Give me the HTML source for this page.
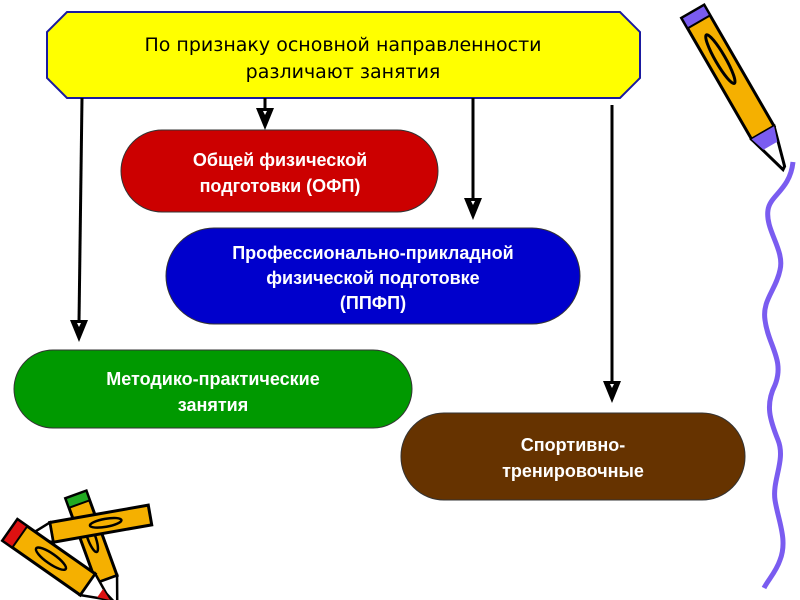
<!DOCTYPE html>
<html><head><meta charset="utf-8"><style>
html,body{margin:0;padding:0;background:#fff;}
body{width:800px;height:600px;overflow:hidden;position:relative;}
svg{position:absolute;left:0;top:0;}
text{font-family:"Liberation Sans","DejaVu Sans",sans-serif;font-weight:bold;font-size:18px;text-anchor:middle;}
</style></head><body>
<svg width="800" height="600" viewBox="0 0 800 600">
<polygon points="67,12 620,12 640,32 640,78 620,98 67,98 47,78 47,32" fill="#ffff00" stroke="#1a1aa0" stroke-width="2"/>
<text x="343" y="51" style="font-weight:normal;font-family:'DejaVu Sans',sans-serif;font-size:19px">По признаку основной направленности</text>
<text x="343" y="78" style="font-weight:normal;font-family:'DejaVu Sans',sans-serif;font-size:19px">различают занятия</text>
<g stroke="#000" stroke-width="3">
<line x1="82" y1="98" x2="79" y2="322"/>
<line x1="265" y1="98" x2="265" y2="112"/>
<line x1="473" y1="98" x2="473" y2="200"/>
<line x1="612" y1="105" x2="612" y2="383"/>
</g>
<g fill="#000">
<polygon points="70,320 88,320 79,342"/>
<polygon points="256,108 274,108 265,130"/>
<polygon points="464,198 482,198 473,220"/>
<polygon points="603,381 621,381 612,403"/>
</g>
<g fill="#fff">
<polygon points="77,323 81,323 79,327"/>
<polygon points="263,111 267,111 265,115"/>
<polygon points="471,201 475,201 473,205"/>
<polygon points="610,384 614,384 612,388"/>
</g>
<rect x="121" y="130" width="317" height="82" rx="41" fill="#cc0000" stroke="#333" stroke-width="1"/>
<text x="280" y="166" fill="#fff">Общей физической</text>
<text x="280" y="192" fill="#fff">подготовки (ОФП)</text>
<rect x="166" y="228" width="414" height="96" rx="48" fill="#0000cc" stroke="#333" stroke-width="1"/>
<text x="373" y="259" fill="#fff">Профессионально-прикладной</text>
<text x="373" y="284" fill="#fff">физической подготовке</text>
<text x="373" y="309" fill="#fff">(ППФП)</text>
<rect x="14" y="350" width="398" height="78" rx="39" fill="#009900" stroke="#333" stroke-width="1"/>
<text x="213" y="385" fill="#fff">Методико-практические</text>
<text x="213" y="411" fill="#fff">занятия</text>
<rect x="401" y="413" width="344" height="87" rx="43" fill="#663300" stroke="#333" stroke-width="1"/>
<text x="573" y="451" fill="#fff">Спортивно-</text>
<text x="573" y="477" fill="#fff">тренировочные</text>
<path d="M793,162 C790,190 770,195 768,210 C765,230 785,250 780,270 C776,290 762,300 765,320 C768,345 785,360 775,385 C765,405 770,420 778,440 C786,460 772,480 775,500 C778,520 788,540 780,560 C776,572 768,580 764,588" fill="none" stroke="#7a5cf0" stroke-width="5"/>
<g transform="translate(692,12) rotate(-30)">
<rect x="-12" y="0" width="26" height="140" fill="#f5b000" stroke="#000" stroke-width="3"/>
<rect x="-12" y="0" width="26" height="12" fill="#7a5cf0" stroke="#000" stroke-width="2"/>
<ellipse cx="1" cy="55" rx="5" ry="28" fill="none" stroke="#000" stroke-width="3"/>
<polygon points="-12,140 14,140 3,180 0,182" fill="#fff" stroke="#000" stroke-width="3"/>
<polygon points="-12,140 14,140 9,155 -7,155" fill="#7a5cf0"/>
</g>
<g transform="translate(75,495) rotate(-20)">
<rect x="-10" y="0" width="22" height="90" fill="#f5b000" stroke="#000" stroke-width="3"/>
<rect x="-10" y="0" width="22" height="10" fill="#22aa22" stroke="#000" stroke-width="2"/>
<ellipse cx="1" cy="45" rx="4" ry="16" fill="none" stroke="#000" stroke-width="2.5"/>
<polygon points="-10,90 12,90 2,118" fill="#fff" stroke="#000" stroke-width="2.5"/>
</g>
<g transform="translate(150,515) rotate(80)">
<rect x="-10" y="0" width="20" height="100" fill="#f5b000" stroke="#000" stroke-width="3"/>
<ellipse cx="0" cy="45" rx="4" ry="16" fill="none" stroke="#000" stroke-width="2.5"/>
<polygon points="-10,100 10,100 0,125" fill="#fff" stroke="#000" stroke-width="2.5"/>
</g>
<g transform="translate(10,530) rotate(-55)">
<rect x="-13" y="0" width="26" height="95" fill="#f5b000" stroke="#000" stroke-width="3"/>
<rect x="-13" y="0" width="26" height="12" fill="#dd1111" stroke="#000" stroke-width="2"/>
<ellipse cx="0" cy="50" rx="5" ry="18" fill="none" stroke="#000" stroke-width="2.5"/>
<polygon points="-13,95 13,95 0,122" fill="#fff" stroke="#000" stroke-width="2.5"/>
<polygon points="-5,110 5,110 0,122" fill="#dd1111"/>
</g>
</svg>
</body></html>
